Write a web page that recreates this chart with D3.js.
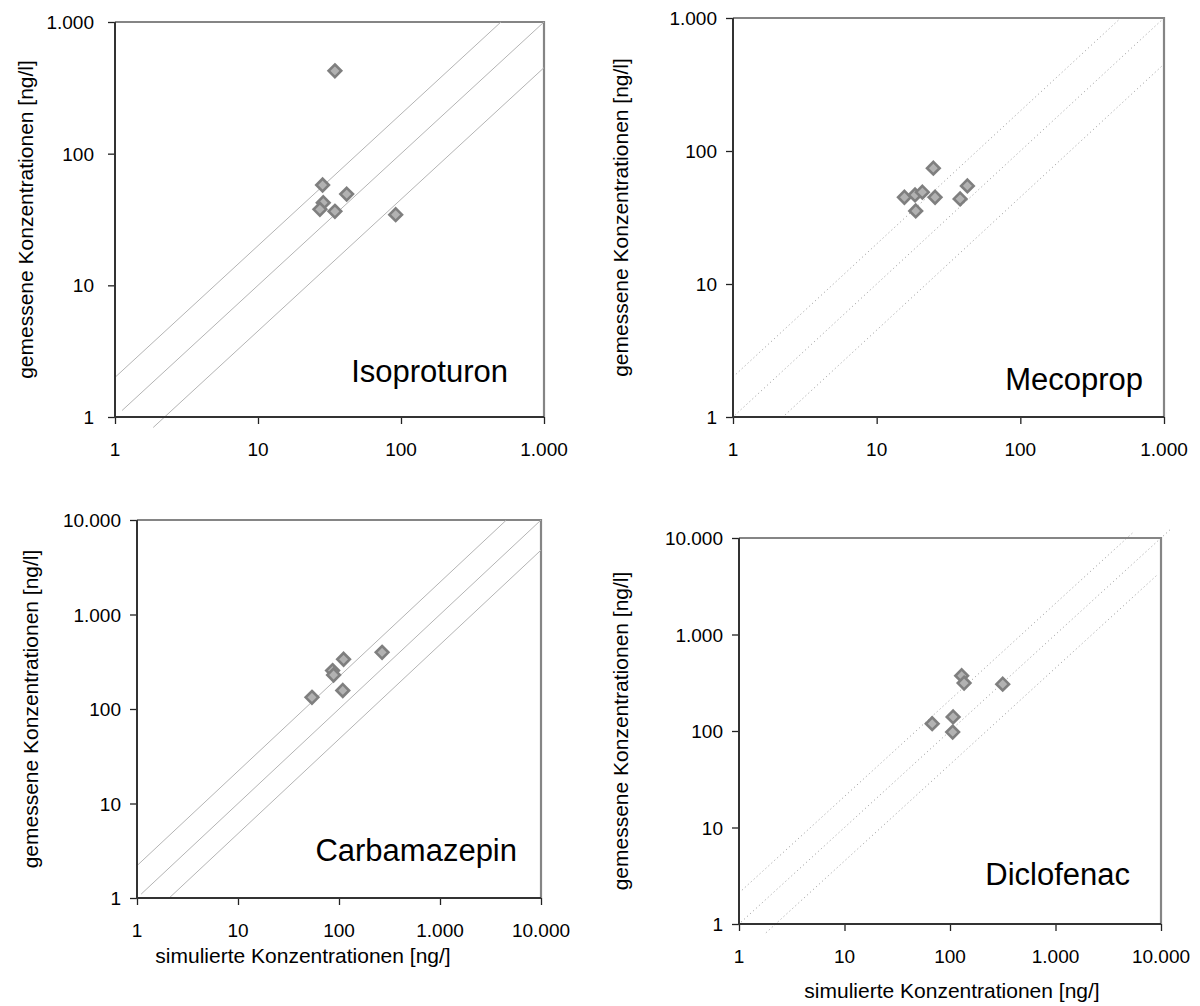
<!DOCTYPE html>
<html>
<head>
<meta charset="utf-8">
<script src="https://cdn.jsdelivr.net/npm/d3@7"></script>
<style>
  html, body { margin: 0; padding: 0; background: #fff; }
  svg { display: block; font-family: "Liberation Sans", Arial, sans-serif; }
  .tick-label { font-size: 19px; fill: #000; }
  .axis-title { font-size: 21px; fill: #000; }
  .panel-name { font-size: 31px; fill: #000; }
</style>
</head>
<body>
<svg id="chart" width="1200" height="1006"></svg>
<script>
// ---- data ----
const substances = ["Isoproturon", "Mecoprop", "Carbamazepin", "Diclofenac"];

const isoSim  = [34.5, 28.3, 41.7, 28.6, 27.1, 34.5, 91.8];
const isoMeas = [426, 57.8, 49.3, 42.4, 37.8, 36.5, 34.4];

const mecoSim  = [24.8, 42.8, 15.6, 18.5, 20.8, 25.5, 38.1, 18.7];
const mecoMeas = [74.2, 54.6, 44.9, 46.7, 49.0, 44.9, 43.6, 35.4];

const carbSim  = [111, 267, 86.4, 88.4, 109, 54];
const carbMeas = [336, 398, 255, 229, 157, 133];

const dicloSim  = [129, 136, 316, 67.8, 107, 106];
const dicloMeas = [374, 314, 306, 119, 140, 97.5];

const ticks3 = [1, 10, 100, 1000];
const ticks4 = [1, 10, 100, 1000, 10000];

// reference lines: factor (measured = factor * simulated) and x extent
const bandFactors = [2, 1, 0.45];
const isoLines   = [[1, 500], [1.12, 1000], [1.85, 1000]];
const mecoLines  = [[1, 500], [1.03, 1000], [2.3, 1000]];
const carbFactors  = [2.2, 1, 0.48];
const carbLines  = [[1, 4500], [1.1, 10000], [2.1, 10000]];
const dicloFactors = [2.1, 1, 0.45];
const dicloLines = [[1, 5500], [1.05, 12500], [1.8, 9300]];

const yTitle = "gemessene Konzentrationen [ng/l]";
const xTitle = "simulierte Konzentrationen [ng/]";

// ---- layout ----
const panels = [
  { name: substances[0], sim: isoSim, meas: isoMeas, ticks: ticks3, factors: bandFactors, lines: isoLines,
    x0: 115, x1: 544, y0: 22, y1: 417, dotted: false, labelGap: 21,
    nameX: 508, nameY: 382, yTitleX: 33, xTitle: null },
  { name: substances[1], sim: mecoSim, meas: mecoMeas, ticks: ticks3, factors: bandFactors, lines: mecoLines,
    x0: 733, x1: 1164, y0: 18, y1: 417, dotted: true, labelGap: 16,
    nameX: 1143, nameY: 390, yTitleX: 628, xTitle: null },
  { name: substances[2], sim: carbSim, meas: carbMeas, ticks: ticks4, factors: carbFactors, lines: carbLines,
    x0: 137, x1: 541, y0: 520, y1: 898, dotted: false, labelGap: 16,
    nameX: 517, nameY: 861, yTitleX: 38, xTitle: { x: 303, y: 963 } },
  { name: substances[3], sim: dicloSim, meas: dicloMeas, ticks: ticks4, factors: dicloFactors, lines: dicloLines,
    x0: 739, x1: 1161, y0: 538, y1: 924, dotted: true, labelGap: 16,
    nameX: 1130, nameY: 885, yTitleX: 628, xTitle: { x: 952, y: 998 } }
];

const de = d3.formatLocale({ decimal: ",", thousands: ".", grouping: [3], currency: ["", " €"] });
const fmt = de.format(",d");

const svg = d3.select("#chart");

function minorTicks(domain) {
  const out = [];
  for (let d = domain[0]; d < domain[1]; d *= 10) {
    for (let m = 2; m <= 9; m++) out.push(d * m);
  }
  return out;
}

function diamond(r) {
  return `M0,${-r}L${r},0L0,${r}L${-r},0Z`;
}

function drawPanel(p) {
  const domain = [p.ticks[0], p.ticks[p.ticks.length - 1]];
  const x = d3.scaleLog().domain(domain).range([p.x0, p.x1]);
  const y = d3.scaleLog().domain(domain).range([p.y1, p.y0]);

  const g = svg.append("g");

  // plot area border (gray top/right)
  g.append("path")
    .attr("d", `M${p.x0},${p.y0}H${p.x1}V${p.y1}`)
    .attr("fill", "none")
    .attr("stroke", "#858585")
    .attr("stroke-width", 2.2);

  // reference lines
  const line = d3.line().x(d => x(d[0])).y(d => y(d[1]));
  p.factors.forEach((k, i) => {
    const [a, b] = p.lines[i];
    g.append("path")
      .attr("d", line([[a, a * k], [b, b * k]]))
      .attr("fill", "none")
      .attr("stroke", p.dotted ? "#8a8a8a" : "#b4b4b4")
      .attr("stroke-width", p.dotted ? 0.9 : 1)
      .attr("stroke-dasharray", p.dotted ? "1,3" : null);
  });

  // axes
  const minors = minorTicks(domain);
  const yAxis = g.append("g").attr("transform", `translate(${p.x0},0)`);
  yAxis.call(d3.axisLeft(y).tickValues(minors).tickSize(5).tickFormat(""));
  yAxis.call(d3.axisLeft(y).tickValues(p.ticks).tickSize(7).tickFormat(""));
  const xAxis = g.append("g").attr("transform", `translate(0,${p.y1})`);
  xAxis.call(d3.axisBottom(x).tickValues(minors).tickSize(6).tickFormat(""));
  xAxis.call(d3.axisBottom(x).tickValues(p.ticks).tickSize(7).tickFormat(""));
  g.selectAll(".domain").remove();
  g.selectAll(".tick line").attr("stroke", "#222").attr("stroke-width", 1.3);

  g.append("path")
    .attr("d", `M${p.x0},${p.y0}V${p.y1}H${p.x1}`)
    .attr("fill", "none")
    .attr("stroke", "#333")
    .attr("stroke-width", 2);

  // tick labels
  g.selectAll(".ylab")
    .data(p.ticks)
    .join("text")
    .attr("class", "tick-label")
    .attr("x", p.x0 - p.labelGap)
    .attr("y", d => y(d) + 7)
    .attr("text-anchor", "end")
    .text(d => fmt(d));

  g.selectAll(".xlab")
    .data(p.ticks)
    .join("text")
    .attr("class", "tick-label")
    .attr("x", d => x(d))
    .attr("y", p.y1 + 39)
    .attr("text-anchor", "middle")
    .text(d => fmt(d));

  // axis titles
  g.append("text")
    .attr("class", "axis-title")
    .attr("transform", `translate(${p.yTitleX},${(p.y0 + p.y1) / 2}) rotate(-90)`)
    .attr("text-anchor", "middle")
    .text(yTitle);

  if (p.xTitle) {
    g.append("text")
      .attr("class", "axis-title")
      .attr("x", p.xTitle.x)
      .attr("y", p.xTitle.y)
      .attr("text-anchor", "middle")
      .text(xTitle);
  }

  // substance name
  g.append("text")
    .attr("class", "panel-name")
    .attr("x", p.nameX)
    .attr("y", p.nameY)
    .attr("text-anchor", "end")
    .text(p.name);

  // points
  const pts = p.sim.map((s, i) => [s, p.meas[i]]);
  g.selectAll(".pt")
    .data(pts)
    .join("path")
    .attr("transform", d => `translate(${x(d[0])},${y(d[1])})`)
    .attr("d", diamond(6.3))
    .attr("fill", "#b2b2b2")
    .attr("stroke", "#7f7f7f")
    .attr("stroke-width", 2.6)
    .attr("stroke-linejoin", "miter");
}

panels.forEach(drawPanel);
</script>
</body>
</html>
